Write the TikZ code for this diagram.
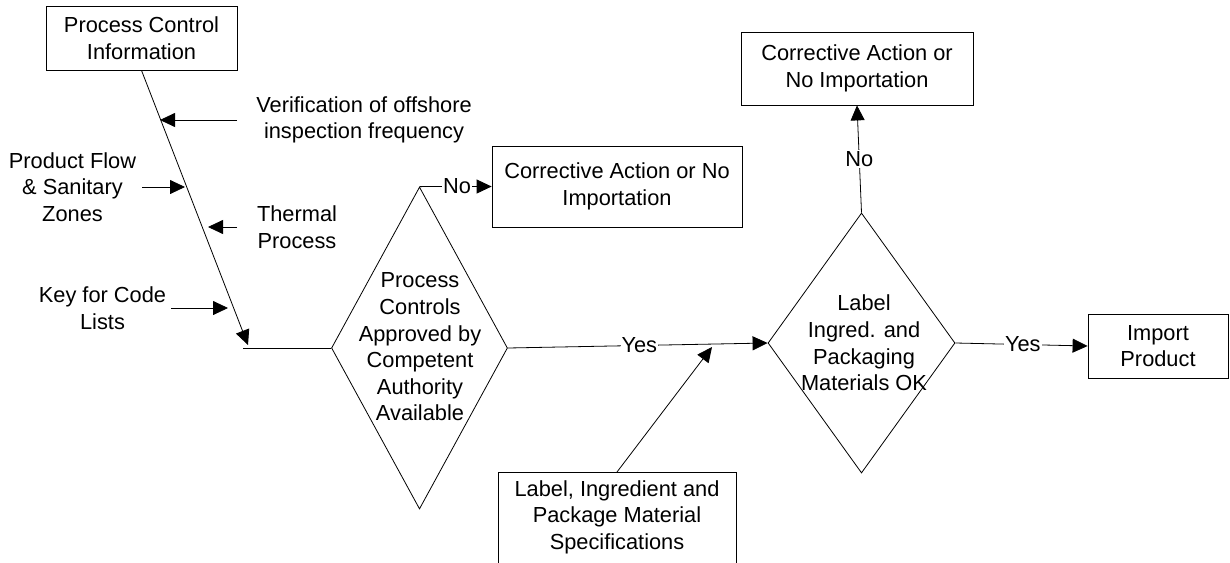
\documentclass[tikz,border=0pt]{standalone}
\usepackage{fontspec}
\setmainfont{Liberation Sans}
\usetikzlibrary{arrows.meta,shapes.geometric}
\begin{document}
\begin{tikzpicture}[x=1pt,y=-1pt,
  font=\fontsize{21.8}{26.6}\selectfont,
  line width=0.8pt,
  box/.style={draw, inner sep=0pt, align=center},
  arr/.style={-{Triangle[length=15pt,width=14pt]}},
  dia/.style={draw, diamond, inner sep=0pt},
  txt/.style={align=center, inner sep=0pt},
  lbl/.style={fill=white, inner sep=1pt}]
\useasboundingbox (0,0) rectangle (1230,562);
\clip (0,0) rectangle (1230,562);

% boxes
\node[box, minimum width=191pt, minimum height=64pt] (pci) at (141.5,38) {Process Control\\Information};
\node[box, minimum width=250pt, minimum height=81pt] (ca1) at (617,186.5) {Corrective Action or No\\Importation};
\node[box, minimum width=232pt, minimum height=73pt] (ca2) at (857,68.5) {Corrective Action or\\No Importation};
\node[box, minimum width=140pt, minimum height=64pt] (imp) at (1158,346) {Import\\Product};
\node[box, minimum width=238pt, minimum height=130pt, anchor=north] (lis) at (617,472) {};
\node[txt] (list) at (617,517) {Label, Ingredient and\\Package Material\\Specifications};

% diamonds
\node[dia, minimum width=176pt, minimum height=322pt] (d1) at (419.5,348) {};
\node[txt] (d1t) at (420,347) {Process\\Controls\\Approved by\\Competent\\Authority\\Available};
\node[dia, minimum width=187pt, minimum height=260pt] (d2) at (861.5,343) {};
\node[txt] (d2t) at (864,343) {Label\\Ingred. and\\Packaging\\Materials OK};

% side labels
\node[txt] (ver) at (364,120) {Verification of offshore\\inspection frequency};
\node[txt] (pf) at (72.5,187) {Product Flow\\\& Sanitary\\Zones};
\node[txt] (th) at (297,227) {Thermal\\Process};
\node[txt] (key) at (102.5,308) {Key for Code\\Lists};

% coordinates
\coordinate (bend) at (248,345);
\coordinate (hl) at (243,348);
\coordinate (vs) at (237,120);
\coordinate (ve) at (160,120);
\coordinate (ps) at (142,187);
\coordinate (pe) at (185,187);
\coordinate (ts) at (237,227);
\coordinate (te) at (208,227);
\coordinate (ks) at (171,308);
\coordinate (ke) at (228,308);
\coordinate (le) at (712,347);

% connectors
\draw[arr] (pci.south) -- (bend);
\draw (hl) -- (d1.west);
\draw[arr] (vs) -- (ve);
\draw[arr] (ps) -- (pe);
\draw[arr] (ts) -- (te);
\draw[arr] (ks) -- (ke);
\draw[arr] (d1.north) -- node[lbl, pos=0.52]{No} (ca1.west);
\draw[arr] (d1.east) -- node[lbl, pos=0.506]{Yes} (d2.west);
\draw[arr] (lis.north) -- (le);
\draw[arr] (d2.north) -- node[lbl]{No} (ca2.south);
\draw[arr] (d2.east) -- node[lbl, pos=0.51]{Yes} (imp.west);
\end{tikzpicture}
\end{document}
